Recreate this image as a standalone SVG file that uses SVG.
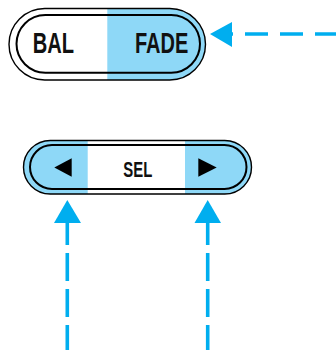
<svg xmlns="http://www.w3.org/2000/svg" width="336" height="350" viewBox="0 0 336 350">
<style>
.outer{fill:none;stroke:#000;stroke-width:1.4}
.inner{fill:none;stroke:#000;stroke-width:2}
.lbl{font-family:"Liberation Sans",Arial,sans-serif;font-weight:bold;fill:#111}
.blue{fill:#8ed8f7}
.conn{stroke:#00aeef;stroke-width:3.6;fill:none}
.head{fill:#00aeef}
</style>
<defs>
<clipPath id="c1"><rect x="9" y="8.5" width="196.5" height="71.5" rx="35.75"/></clipPath>
<clipPath id="c2"><rect x="23.5" y="140.5" width="228" height="53.5" rx="26.75"/></clipPath>
</defs>
<rect width="336" height="350" fill="#fff"/>
<g id="balfade">
<rect x="9" y="8.5" width="196.5" height="71.5" rx="35.75" fill="#fff"/>
<rect class="blue" x="107.3" y="0" width="110" height="90" clip-path="url(#c1)"/>
<rect class="outer" x="9" y="8.5" width="196.5" height="71.5" rx="35.75"/>
<rect class="inner" x="16.5" y="15" width="183.5" height="57.7" rx="28.85"/>
<text class="lbl" x="32.7" y="53.3" font-size="29" textLength="41.3" lengthAdjust="spacingAndGlyphs">BAL</text>
<text class="lbl" x="135" y="53.3" font-size="29" textLength="53.3" lengthAdjust="spacingAndGlyphs">FADE</text>
</g>
<g id="sel">
<rect x="23.5" y="140.5" width="228" height="53.5" rx="26.75" fill="#fff"/>
<rect class="blue" x="15" y="130" width="72.7" height="70" clip-path="url(#c2)"/>
<rect class="blue" x="185" y="130" width="75" height="70" clip-path="url(#c2)"/>
<rect class="outer" x="23.5" y="140.5" width="228" height="53.5" rx="26.75"/>
<rect class="inner" x="30" y="145" width="216.5" height="44" rx="22"/>
<polygon points="54.3,167.5 71.7,158.3 71.7,176.7" fill="#000"/>
<polygon points="216.7,167.5 198.3,158.3 198.3,176.7" fill="#000"/>
<text class="lbl" x="123.3" y="176.5" font-size="22" textLength="29" lengthAdjust="spacingAndGlyphs">SEL</text>
</g>
<g id="connectors">
<line class="conn" x1="338" y1="34" x2="228" y2="34" stroke-dasharray="23 12"/>
<polygon class="head" points="210,34 232,22 232,47"/>
<line class="conn" x1="67.3" y1="353" x2="67.3" y2="217" stroke-dasharray="28 8"/>
<polygon class="head" points="67.3,200 54,223 81,223"/>
<line class="conn" x1="207.7" y1="353" x2="207.7" y2="217" stroke-dasharray="28 8"/>
<polygon class="head" points="207.7,200 194.5,223 221,223"/>
</g>
</svg>
